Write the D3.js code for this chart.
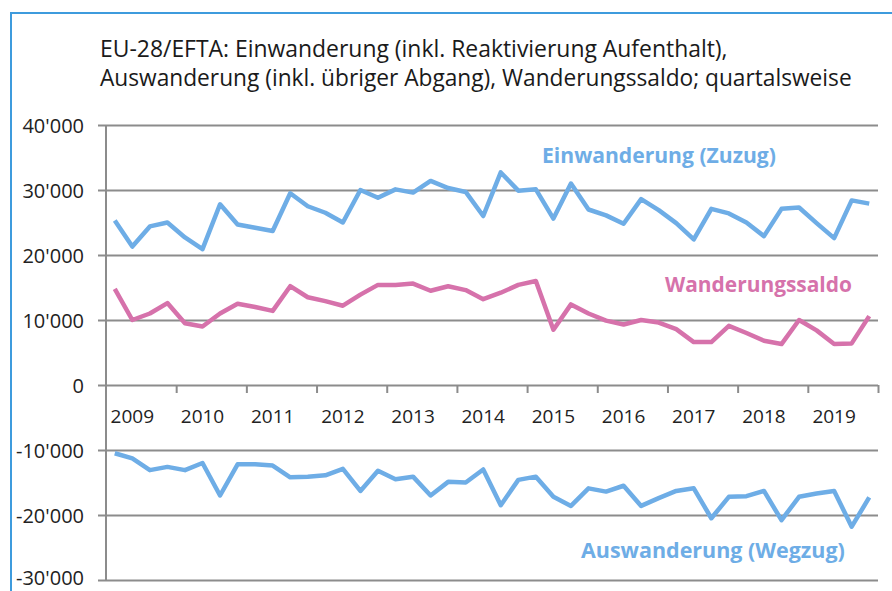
<!DOCTYPE html>
<html><head><meta charset="utf-8">
<script src="https://cdn.jsdelivr.net/npm/d3@7"></script>
<style>
html,body{margin:0;padding:0;background:#fff;}
text{font-family:"Open Sans","Noto Sans",sans-serif;}
</style></head>
<body><svg id="chart" width="892" height="591"></svg>
<script>
// ---- data ----
const years = [2009,2010,2011,2012,2013,2014,2015,2016,2017,2018,2019];
const quarterNames = ["Q1","Q2","Q3","Q4"];
const einwanderung = [25300,21300,24400,25000,22700,20900,27800,24700,24200,23700,29500,27500,
  26500,25000,30000,28800,30100,29600,31400,30300,29700,26000,32700,29900,30100,25600,31000,27000,
  26100,24800,28600,26900,24900,22400,27100,26400,25000,22900,27100,27300,24900,22600,28400,27900];
const auswanderung = [-10500,-11300,-13100,-12600,-13100,-12000,-17000,-12200,-12200,-12400,-14200,-14100,
  -13900,-12900,-16300,-13200,-14500,-14100,-17000,-14900,-15000,-13000,-18500,-14600,-14100,-17200,-18600,-15900,
  -16400,-15500,-18600,-17400,-16300,-15900,-20500,-17200,-17100,-16300,-20800,-17200,-16700,-16300,-21800,-17300];
const saldo = [14800,10000,11000,12600,9500,9000,11000,12500,12000,11400,15200,13500,
  12900,12200,13900,15400,15400,15600,14500,15200,14600,13200,14200,15400,16000,8500,12400,11000,
  9900,9300,10000,9600,8600,6600,6600,9100,8000,6800,6300,10000,8400,6300,6400,10600];
const yTicks = [-30000,-20000,-10000,0,10000,20000,30000,40000];
const titleLines = ["EU-28/EFTA: Einwanderung (inkl. Reaktivierung Aufenthalt),",
                    "Auswanderung (inkl. übriger Abgang), Wanderungssaldo; quartalsweise"];
const seriesLabels = ["Einwanderung (Zuzug)","Wanderungssaldo","Auswanderung (Wegzug)"];

// ---- layout ----
const svg = d3.select("#chart");
const L = 106, R = 878, T = 125, B = 580;
const blue = "#6EADE6", pink = "#D672AB", grid = "#8C8C8C";

const quarters = years.flatMap(y => quarterNames.map(q => y + q));
const x = d3.scaleBand().domain(quarters).range([L, R]).padding(0);
const y = d3.scaleLinear().domain([-30000, 40000]).range([B, T]);
const cx = i => x(quarters[i]) + x.bandwidth() / 2;

// frame
svg.append("path").attr("d", `M11,${600} L11,13 L${900},13`)
  .attr("fill","none").attr("stroke","#3E9BDD").attr("stroke-width",2);

// fit text helper
function fit(sel, target) {
  const w = sel.node().getComputedTextLength();
  const fs = parseFloat(sel.attr("font-size"));
  sel.attr("font-size", fs * target / w);
}

// title
const t1 = svg.append("text").attr("x",100).attr("y",57).attr("font-size",20).attr("fill","#1a1a1a").text(titleLines[0]);
fit(t1, 628);
const t2 = svg.append("text").attr("x",100).attr("y",86).attr("font-size",20).attr("fill","#1a1a1a").text(titleLines[1]);
fit(t2, 752);

// y axis with gridlines
const loc = d3.formatLocale({decimal:".", thousands:"'", grouping:[3], currency:["",""], minus:"-"});
const fmt = loc.format(",d");
const yAxis = d3.axisLeft(y).tickValues(yTicks).tickFormat(fmt).tickSizeInner(-(R - L)).tickSizeOuter(0).tickPadding(22);
const gy = svg.append("g").attr("transform",`translate(${L},0)`).call(yAxis);
gy.select(".domain").remove();
gy.selectAll(".tick line").attr("x1",-8).attr("stroke",grid).attr("stroke-width",2);
gy.selectAll(".tick text").attr("font-size",20).attr("fill","#222")
  .attr("font-family","'Open Sans','Noto Sans',sans-serif")
  .attr("dy", d => d === yTicks[0] ? "0.2em" : "0.35em");
// vertical axis line
svg.append("line").attr("x1",L).attr("x2",L).attr("y1",T).attr("y2",B+1).attr("stroke",grid).attr("stroke-width",2);

// x axis (at zero) year ticks
const y0 = y(0);
const xAxis = d3.axisBottom(d3.scaleLinear().domain([0, years.length]).range([L, R]))
  .tickValues(d3.range(1, years.length + 1)).tickSizeInner(8).tickSizeOuter(0).tickFormat("");
const gx = svg.append("g").attr("transform",`translate(0,${y0})`).call(xAxis);
gx.select(".domain").remove();
gx.selectAll(".tick line").attr("stroke",grid).attr("stroke-width",2);
svg.selectAll("text.year").data(years).join("text").attr("class","year")
  .attr("x", d => x(d + "Q2") + x.bandwidth()/2).attr("y", 423)
  .attr("text-anchor","middle").attr("font-size",19).attr("fill","#222").text(d => d);

// lines
const line = d3.line().x((d,i) => cx(i)).y(d => y(d));
[[einwanderung, blue],[saldo, pink],[auswanderung, blue]].forEach(([data, c]) => {
  svg.append("path").datum(data).attr("d", line).attr("fill","none")
    .attr("stroke", c).attr("stroke-width",4.5).attr("stroke-linejoin","round");
});

// series labels
const lab = [[seriesLabels[0], 542, 163, blue, 234],[seriesLabels[1], 665, 292, pink, 187],[seriesLabels[2], 581, 558, blue, 264]];
lab.forEach(([txt, lx, ly, c, w]) => {
  const s = svg.append("text").attr("x",lx).attr("y",ly).attr("font-size",20).attr("font-weight","bold").attr("fill",c).text(txt);
  fit(s, w);
});
</script></body></html>
